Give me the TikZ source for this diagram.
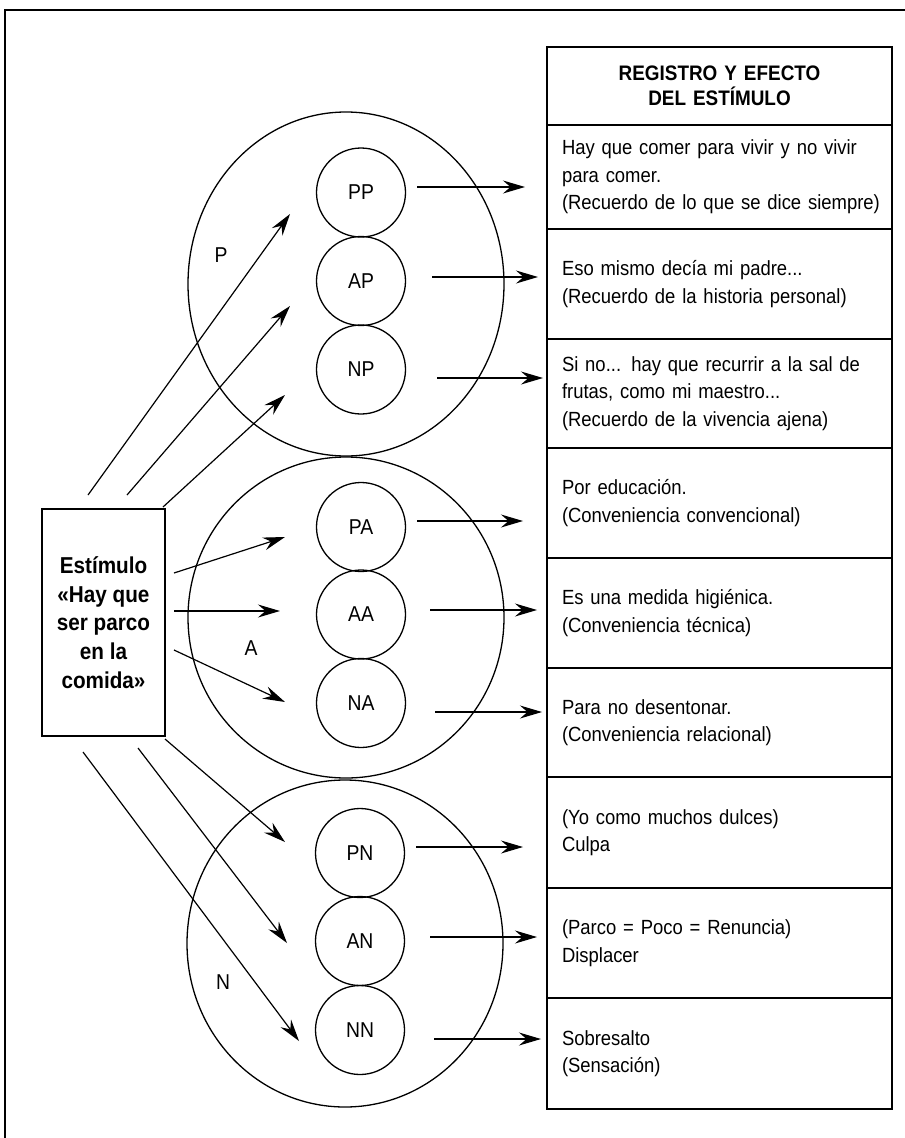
\documentclass[tikz,border=0pt]{standalone}
\usepackage{fontspec}
\setmainfont[FakeStretch=0.9]{Liberation Sans}
\usetikzlibrary{arrows.meta,shapes.geometric}
\begin{document}
\begin{tikzpicture}[x=1pt,y=-1pt,
  every node/.style={font=\fontsize{20.5}{27.5}\selectfont},
  line width=1.3pt,
  arr/.style={-{Stealth[length=22pt,width=13pt,inset=7.5pt]}, line width=1.2pt},
  sub/.style={draw, circle, minimum size=89pt, inner sep=0pt, font=\fontsize{21.5}{24}\selectfont},
  tag/.style={font=\fontsize{21.5}{24}\selectfont},
  group/.style={draw, ellipse, inner sep=0pt},
  cell/.style={draw, rectangle, text width=315pt, inner xsep=15pt, inner ysep=0pt, align=left},
  head/.style={cell, align=center, font=\bfseries\fontsize{21}{25}\selectfont},
  stimbox/.style={draw, minimum width=123pt, minimum height=227pt, align=center,
    font=\bfseries\fontsize{23}{28.75}\selectfont},
  ]
\useasboundingbox (0,0) rectangle (905,1138);

% page frame (top and left rules)
\draw[line width=1.4pt] (5,1138) -- (5,10) -- (905,10);

% the three large groups
\node[group, minimum width=316pt, minimum height=344pt] (gP) at (346,284) {};
\node[group, minimum width=316pt, minimum height=321pt] (gA) at (346,617.5) {};
\node[group, minimum width=316pt, minimum height=327pt] (gN) at (345,943.5) {};

\node[tag] (lP) at (221,255) {P};
\node[tag] (lA) at (251,648) {A};
\node[tag] (lN) at (223,982) {N};

% sub-circles
\node[sub] (PP) at (361,192.5) {PP};
\node[sub] (AP) at (361,281) {AP};
\node[sub] (NP) at (361,369.5) {NP};
\node[sub] (PA) at (361,527) {PA};
\node[sub] (AA) at (361,614.5) {AA};
\node[sub] (NA) at (361,703) {NA};
\node[sub] (PN) at (360,853) {PN};
\node[sub] (AN) at (360,941) {AN};
\node[sub] (NN) at (360,1030) {NN};

% stimulus box
\node[stimbox] (stim) at (103.5,622.5) {Estímulo\\«Hay que\\ser parco\\en la\\comida»};

% result table
\node[head, minimum height=78pt] (hd) at (719.5,86) {REGISTRO Y EFECTO\\DEL ESTÍMULO};
\node[cell, minimum height=104pt] (r1) at (719.5,177) {\makebox[315pt][s]{Hay que comer para vivir y no vivir}\\para comer.\\\mbox{(Recuerdo de lo que se dice siempre)}};
\node[cell, minimum height=110pt] (r2) at (719.5,284) {Eso mismo decía mi padre...\\\mbox{(Recuerdo de la historia personal)}};
\node[cell, minimum height=109pt] (r3) at (719.5,393.5) {\makebox[315pt][s]{Si no... hay que recurrir a la sal de}\\frutas, como mi maestro...\\\mbox{(Recuerdo de la vivencia ajena)}};
\node[cell, minimum height=110pt] (r4) at (719.5,503) {Por educación.\\(Conveniencia convencional)};
\node[cell, minimum height=110pt] (r5) at (719.5,613) {Es una medida higiénica.\\(Conveniencia técnica)};
\node[cell, minimum height=109pt] (r6) at (719.5,722.5) {Para no desentonar.\\(Conveniencia relacional)};
\node[cell, minimum height=111pt] (r7) at (719.5,832.5) {(Yo como muchos dulces)\\Culpa};
\node[cell, minimum height=110pt] (r8) at (719.5,943) {(Parco = Poco = Renuncia)\\Displacer};
\node[cell, minimum height=111pt] (r9) at (719.5,1053.5) {Sobresalto\\(Sensación)};

% arrows from the stimulus towards the sub-circles
\coordinate (s1) at (88,495);   \coordinate (t1) at (290,214);
\coordinate (s2) at (127,495);  \coordinate (t2) at (290,306);
\coordinate (s3) at (163,507);  \coordinate (t3) at (285,395);
\coordinate (s4) at (174,573);  \coordinate (t4) at (285,537);
\coordinate (s5) at (174,611);  \coordinate (t5) at (280,611);
\coordinate (s6) at (174,650);  \coordinate (t6) at (285,702);
\coordinate (s7) at (165,739);  \coordinate (t7) at (285,842);
\coordinate (s8) at (138,748);  \coordinate (t8) at (287,943);
\coordinate (s9) at (83,752);   \coordinate (t9) at (299,1041);
\foreach \i in {1,...,9} \draw[arr] (s\i) -- (t\i);

% arrows from the sub-circles to the table
\coordinate (o1) at (417,187);  \coordinate (e1) at (525,187);
\coordinate (o2) at (432,277);  \coordinate (e2) at (538,277);
\coordinate (o3) at (437,378);  \coordinate (e3) at (543,378);
\coordinate (o4) at (417,521);  \coordinate (e4) at (523,521);
\coordinate (o5) at (430,610);  \coordinate (e5) at (537,610);
\coordinate (o6) at (435,712);  \coordinate (e6) at (542,712);
\coordinate (o7) at (416,847);  \coordinate (e7) at (523,847);
\coordinate (o8) at (430,937);  \coordinate (e8) at (537,937);
\coordinate (o9) at (434,1039); \coordinate (e9) at (541,1039);
\foreach \i in {1,...,9} \draw[arr] (o\i) -- (e\i);
\end{tikzpicture}
\end{document}
